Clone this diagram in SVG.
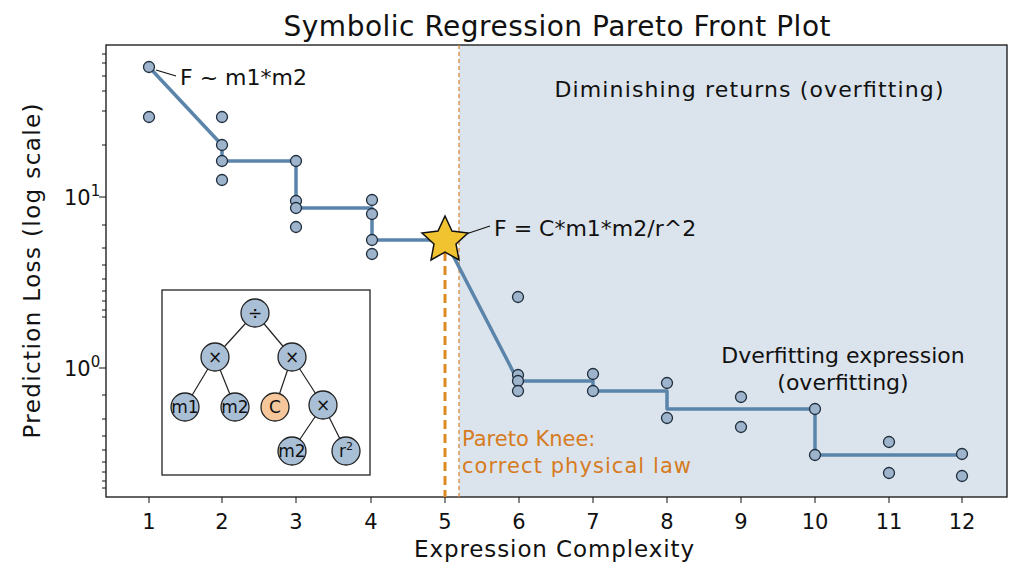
<svg xmlns="http://www.w3.org/2000/svg" width="1024" height="571" viewBox="0 0 1024 571">
<style>
text{font-family:"DejaVu Sans",sans-serif;fill:#111}
.pt{fill:#9db4cc;stroke:#1f2d3d;stroke-width:1.3}
.tk{stroke:#111;stroke-width:1}
.nd{fill:#a9bfd6;stroke:#222;stroke-width:1.3}
.nt{font-size:17px;text-anchor:middle}
</style>
<rect width="1024" height="571" fill="#fff"/>
<rect x="459" y="45" width="548" height="452" fill="#dbe4ec"/>
<text x="557" y="36" font-size="28" text-anchor="middle" textLength="547">Symbolic Regression Pareto Front Plot</text>
<g id="axes">
<rect x="106" y="45" width="901" height="452" fill="none" stroke="#111" stroke-width="1.3"/>
<g class="tk">
<path d="M149 497v6M222 497v6M296 497v6M371 497v6M445 497v6M519 497v6M593 497v6M667 497v6M741 497v6M815 497v6M889 497v6M962 497v6"/>
<path d="M106 197h-7M106 368h-7"/>
<path d="M106 54h-4M106 63h-4M106 76h-4M106 91h-4M106 111h-4M106 145h-4M106 225h-4M106 248h-4M106 265h-4M106 279h-4M106 291h-4M106 301h-4M106 310h-4M106 317h-4M106 395h-4M106 419h-4M106 436h-4M106 450h-4M106 462h-4M106 472h-4M106 481h-4M106 488h-4"/>
</g>
<g font-size="21" text-anchor="middle">
<text x="149" y="529">1</text><text x="222" y="529">2</text><text x="296" y="529">3</text><text x="371" y="529">4</text><text x="445" y="529">5</text><text x="519" y="529">6</text><text x="593" y="529">7</text><text x="667" y="529">8</text><text x="741" y="529">9</text><text x="815" y="529">10</text><text x="889" y="529">11</text><text x="962" y="529">12</text>
</g>
<text x="64" y="205" font-size="21">10<tspan font-size="15" dy="-9">1</tspan></text>
<text x="64" y="376" font-size="21">10<tspan font-size="15" dy="-9">0</tspan></text>
<text x="554" y="557" font-size="23" text-anchor="middle" textLength="280">Expression Complexity</text>
<text transform="translate(40 271) rotate(-90)" font-size="23" text-anchor="middle" textLength="335">Prediction Loss (log scale)</text>
</g>
<g id="connectors">
<line x1="459" y1="45" x2="459" y2="497" stroke="#d98a3a" stroke-width="1.3" stroke-dasharray="4 3"/>
<line x1="445" y1="252" x2="445" y2="497" stroke="#dd8a22" stroke-width="3" stroke-dasharray="9 5"/>
<polyline fill="none" stroke="#5a84aa" stroke-width="3.5" stroke-linejoin="round" points="149,67 222,145 222,161 296,161 296,208 372,208 372,240 445,240 518,381 593,381 593,391 667,391 667,409 815,409 815,455 962,455"/>
<line x1="156" y1="70" x2="176" y2="76" stroke="#111" stroke-width="1.3"/>
<line x1="466" y1="234" x2="490" y2="226" stroke="#111" stroke-width="1.3"/>
</g>
<g id="points">
<circle class="pt" cx="149" cy="67" r="5.5"/><circle class="pt" cx="149" cy="117" r="5.5"/>
<circle class="pt" cx="222" cy="117" r="5.5"/><circle class="pt" cx="222" cy="145" r="5.5"/><circle class="pt" cx="222" cy="161" r="5.5"/><circle class="pt" cx="222" cy="180" r="5.5"/>
<circle class="pt" cx="296" cy="161" r="5.5"/><circle class="pt" cx="296" cy="201" r="5.5"/><circle class="pt" cx="296" cy="208" r="5.5"/><circle class="pt" cx="296" cy="227" r="5.5"/>
<circle class="pt" cx="372" cy="200" r="5.5"/><circle class="pt" cx="372" cy="214" r="5.5"/><circle class="pt" cx="372" cy="240" r="5.5"/><circle class="pt" cx="372" cy="254" r="5.5"/>
<circle class="pt" cx="518" cy="297" r="5.5"/><circle class="pt" cx="518" cy="375" r="5.5"/><circle class="pt" cx="518" cy="381" r="5.5"/><circle class="pt" cx="518" cy="391" r="5.5"/>
<circle class="pt" cx="593" cy="374" r="5.5"/><circle class="pt" cx="593" cy="391" r="5.5"/>
<circle class="pt" cx="667" cy="383" r="5.5"/><circle class="pt" cx="667" cy="418" r="5.5"/>
<circle class="pt" cx="741" cy="397" r="5.5"/><circle class="pt" cx="741" cy="427" r="5.5"/>
<circle class="pt" cx="815" cy="409" r="5.5"/><circle class="pt" cx="815" cy="455" r="5.5"/>
<circle class="pt" cx="889" cy="442" r="5.5"/><circle class="pt" cx="889" cy="473" r="5.5"/>
<circle class="pt" cx="962" cy="454" r="5.5"/><circle class="pt" cx="962" cy="476" r="5.5"/>
</g>
<g id="star">
<polygon points="445,216 452,231 468,233 456,244 459,260 445,252 431,260 434,244 422,233 438,231" fill="#f2c330" stroke="#111" stroke-width="1.5"/>
</g>
<g id="labels">
<text x="180" y="85" font-size="22">F ~ m1*m2</text>
<text x="494" y="236" font-size="22">F = C*m1*m2/r^2</text>
<text x="749" y="97" font-size="22" text-anchor="middle" textLength="389">Diminishing returns (overfitting)</text>
<text x="843" y="363" font-size="22" text-anchor="middle">Dverfitting expression</text>
<text x="843" y="390" font-size="22" text-anchor="middle">(overfitting)</text>
<text x="462" y="446" font-size="21" style="fill:#d67b1e">Pareto Knee:</text>
<text x="462" y="473" font-size="21" style="fill:#d67b1e" textLength="229">correct physical law</text>
</g>
<g id="inset">
<rect x="162" y="290" width="208" height="185" fill="#fff" stroke="#222" stroke-width="1.3"/>
<path d="M255 313L215 357M255 313L292 357M215 357L185 407M215 357L235 407M292 357L275 407M292 357L323 405M323 405L292 451M323 405L346 451" stroke="#222" stroke-width="1.2"/>
<circle class="nd" cx="255" cy="313" r="14"/><circle class="nd" cx="215" cy="357" r="14"/><circle class="nd" cx="292" cy="357" r="14"/>
<circle class="nd" cx="185" cy="407" r="14"/><circle class="nd" cx="235" cy="407" r="14"/><circle cx="275" cy="407" r="14" fill="#f5c79a" stroke="#222" stroke-width="1.3"/>
<circle class="nd" cx="323" cy="405" r="14"/><circle class="nd" cx="292" cy="451" r="14"/><circle class="nd" cx="346" cy="451" r="14"/>
<text class="nt" x="255" y="319">÷</text><text class="nt" x="215" y="363">×</text><text class="nt" x="292" y="363">×</text>
<text class="nt" x="185" y="413">m1</text><text class="nt" x="235" y="413">m2</text><text class="nt" x="275" y="413">C</text>
<text class="nt" x="323" y="411">×</text><text class="nt" x="292" y="457">m2</text><text class="nt" x="346" y="457">r<tspan font-size="11" dy="-7">2</tspan></text>
</g>
</svg>
